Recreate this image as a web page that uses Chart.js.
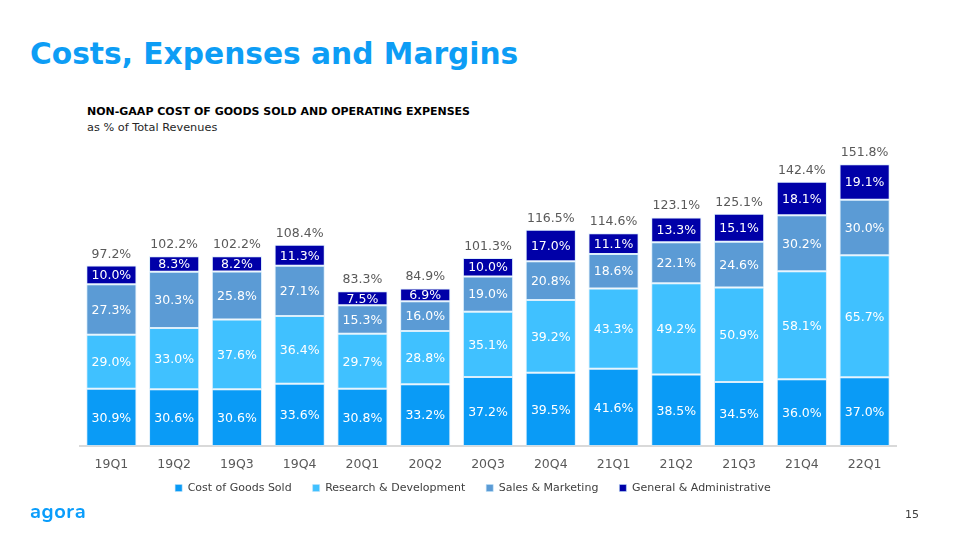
<!DOCTYPE html>
<html>
<head>
<meta charset="utf-8">
<script src="https://cdn.jsdelivr.net/npm/chart.js@4/dist/chart.umd.min.js"></script>
<style>
  html, body { margin:0; padding:0; background:#fff; }
  body { width:960px; height:540px; position:relative; overflow:hidden; font-family:"DejaVu Sans", Verdana, sans-serif; }
  #title { position:absolute; left:30px; top:39px; font-size:29.7px; line-height:30px; font-weight:bold; color:#0d9df5; white-space:nowrap; }
  #sub1 { position:absolute; left:87px; top:106px; font-size:11px; line-height:12px; font-weight:bold; color:#000; white-space:nowrap; }
  #sub2 { position:absolute; left:87px; top:122px; font-size:11.3px; line-height:12px; color:#262626; white-space:nowrap; }
  #logo { position:absolute; left:30px; top:502px; font-size:20px; line-height:20px; font-weight:bold; color:#0a9dfb; font-family:"Nunito","Noto Sans",sans-serif; letter-spacing:0.6px; }
  #page { position:absolute; left:905px; top:509px; font-size:11px; line-height:12px; color:#404040; }
  #wrap { position:absolute; left:0; top:0; width:960px; height:540px; }
</style>
</head>
<body>
<div id="title">Costs, Expenses and Margins</div>
<div id="sub1">NON-GAAP COST OF GOODS SOLD AND OPERATING EXPENSES</div>
<div id="sub2">as % of Total Revenues</div>
<div id="wrap"><canvas id="c" width="960" height="540"></canvas></div>
<div id="logo">agora</div>
<div id="page">15</div>
<script>
const categories = ["19Q1","19Q2","19Q3","19Q4","20Q1","20Q2","20Q3","20Q4","21Q1","21Q2","21Q3","21Q4","22Q1"];
const costOfGoodsSold = [30.9, 30.6, 30.6, 33.6, 30.8, 33.2, 37.2, 39.5, 41.6, 38.5, 34.5, 36.0, 37.0];
const researchDevelopment = [29.0, 33.0, 37.6, 36.4, 29.7, 28.8, 35.1, 39.2, 43.3, 49.2, 50.9, 58.1, 65.7];
const salesMarketing = [27.3, 30.3, 25.8, 27.1, 15.3, 16.0, 19.0, 20.8, 18.6, 22.1, 24.6, 30.2, 30.0];
const generalAdministrative = [10.0, 8.3, 8.2, 11.3, 7.5, 6.9, 10.0, 17.0, 11.1, 13.3, 15.1, 18.1, 19.1];
const totals = [97.2, 102.2, 102.2, 108.4, 83.3, 84.9, 101.3, 116.5, 114.6, 123.1, 125.1, 142.4, 151.8];
const seriesNames = ["Cost of Goods Sold", "Research & Development", "Sales & Marketing", "General & Administrative"];
const seriesColors = ["#0a9bf6", "#40c1ff", "#5b9bd5", "#0000a8"];
const seriesValues = [costOfGoodsSold, researchDevelopment, salesMarketing, generalAdministrative];

const FONT = "'DejaVu Sans', Verdana, sans-serif";
const LEGEND_PAD = 21;
const LEGEND_CENTER_Y = 488;
const LEGEND_CENTER_X = 473;

const labelPlugin = {
  id: 'labels',
  afterLayout(chart) {
    const lg = chart.legend;
    if (!lg) return;
    const shift = (lg.top + LEGEND_PAD + 5.5) - LEGEND_CENTER_Y;
    lg.top -= shift;
    lg.bottom -= shift;
    const shiftX = (lg.left + lg.right) / 2 - LEGEND_CENTER_X;
    lg.left -= shiftX;
    lg.right -= shiftX;
    if (lg.legendHitBoxes) lg.legendHitBoxes.forEach(h => { h.top -= shift; h.left -= shiftX; });
  },
  afterDatasetsDraw(chart) {
    const ctx = chart.ctx;
    ctx.save();
    ctx.font = "12.5px " + FONT;
    ctx.textAlign = 'center';
    ctx.textBaseline = 'middle';
    chart.data.datasets.forEach((ds, di) => {
      const meta = chart.getDatasetMeta(di);
      meta.data.forEach((el, i) => {
        const y = (el.y + el.base) / 2;
        ctx.fillStyle = '#ffffff';
        ctx.fillText(ds.data[i].toFixed(1) + '%', el.x, y + 1);
      });
    });
    const last = chart.getDatasetMeta(chart.data.datasets.length - 1);
    ctx.fillStyle = '#595959';
    ctx.textBaseline = 'alphabetic';
    last.data.forEach((el, i) => {
      ctx.fillText(totals[i].toFixed(1) + '%', el.x, el.y - 8);
    });
    ctx.restore();
  }
};

new Chart(document.getElementById('c'), {
  type: 'bar',
  data: {
    labels: categories,
    datasets: seriesValues.map((vals, k) => ({
      label: seriesNames[k],
      data: vals,
      backgroundColor: seriesColors[k],
      borderColor: 'rgba(190,225,250,0.55)',
      borderWidth: 1,
      borderSkipped: false,
      barPercentage: 0.8,
      categoryPercentage: 1.0
    }))
  },
  options: {
    responsive: false,
    animation: false,
    devicePixelRatio: 1,
    layout: { padding: { left: 80, right: 64, top: 149, bottom: 15 } },
    plugins: {
      legend: {
        position: 'bottom',
        labels: {
          boxWidth: 7, boxHeight: 7,
          color: '#404040',
          font: { family: FONT, size: 11 },
          padding: LEGEND_PAD
        }
      },
      tooltip: { enabled: false }
    },
    scales: {
      x: {
        stacked: true,
        grid: { display: false, drawTicks: false },
        border: { display: true, color: '#d9d9d9', width: 2 },
        ticks: { color: '#595959', font: { family: FONT, size: 12.5 }, padding: 11 }
      },
      y: {
        stacked: true,
        display: false,
        min: 0, max: 160
      }
    }
  },
  plugins: [labelPlugin]
});
</script>
</body>
</html>
